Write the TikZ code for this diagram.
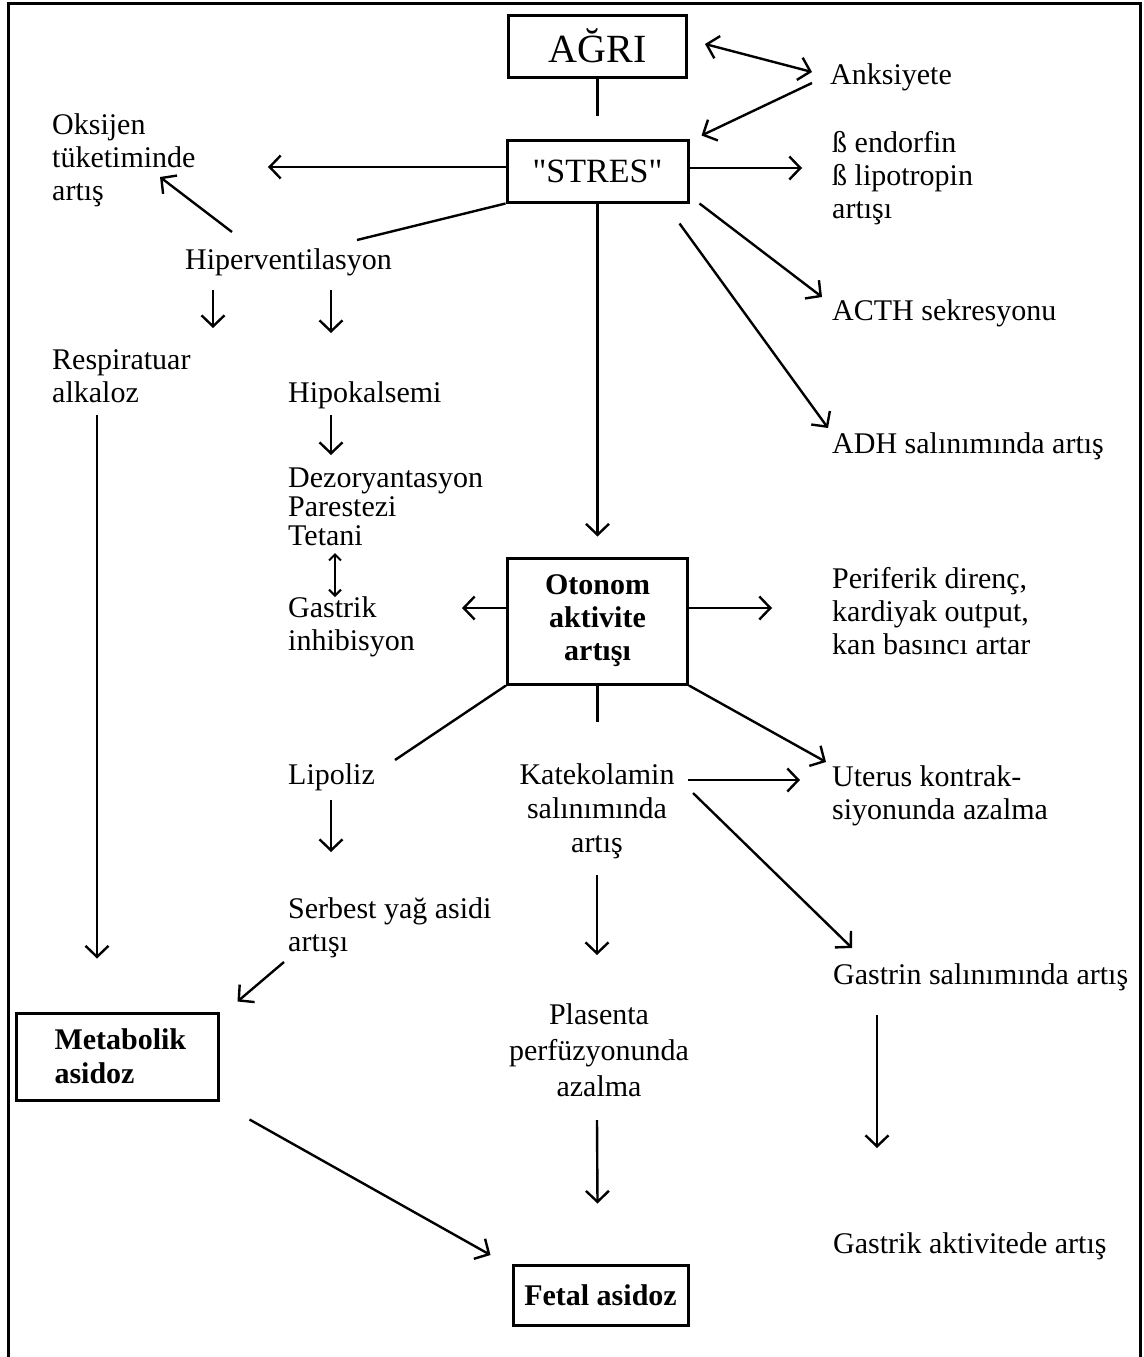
\documentclass[tikz,border=0pt]{standalone}
\usepackage{fontspec}
\setmainfont{Liberation Serif}
\usetikzlibrary{arrows.meta,calc}
\begin{document}
\begin{tikzpicture}[x=1pt,y=-1pt,
  txt/.style={font=\fontsize{30}{33}\selectfont, inner sep=0pt, align=left, anchor=west},
  ctxt/.style={font=\fontsize{30}{34}\selectfont, inner sep=0pt, align=center},
  box/.style={draw, line width=3pt, inner sep=0pt, align=center},
  ln/.style={line width=2.4pt},
  arr/.style={line width=2.4pt, -{Straight Barb[length=11pt,width=23pt]}},
  darr/.style={line width=2.4pt, {Straight Barb[length=11pt,width=23pt]}-{Straight Barb[length=11pt,width=23pt]}},
  sarr/.style={line width=2pt, {Straight Barb[length=6pt,width=12pt]}-{Straight Barb[length=6pt,width=12pt]}}]
\useasboundingbox (0,0) rectangle (1143,1357);
\fill[white] (0,0) rectangle (1143,1357);
\draw[line width=3pt] (8,1357) -- (8,3) -- (1140,3) -- (1140,1357);

% boxes
\node[box, minimum width=178pt, minimum height=62pt, font=\fontsize{40}{44}\selectfont] (agri) at (597.5,46) {AĞRI};
\node[box, minimum width=181pt, minimum height=62pt, font=\fontsize{34}{38}\selectfont] (stres) at (597.5,171) {\textquotedbl STRES\textquotedbl};
\node[box, minimum width=180pt, minimum height=126pt, font=\fontsize{30}{33}\selectfont\bfseries] (oto) at (597.5,621) {Otonom\\aktivite\\artışı};
\node[box, minimum width=202pt, minimum height=87pt, text width=125pt, inner xsep=38.5pt, align=left, font=\fontsize{30}{34}\selectfont\bfseries] (metab) at (117,1056.5) {Metabolik\\asidoz};
\node[box, minimum width=175pt, minimum height=60pt, font=\fontsize{30}{34}\selectfont\bfseries] (fetal) at (600.5,1295) {Fetal asidoz};

% texts
\node[txt] (anks) at (830,77) {Anksiyete};
\node[txt] (endo) at (832,178) {ß endorfin\\ß lipotropin\\artışı};
\node[txt] (oks) at (52,160) {Oksijen\\tüketiminde\\artış};
\node[txt] (hiper) at (185,262) {Hiperventilasyon};
\node[txt] (resp) at (52,376) {Respiratuar\\alkaloz};
\node[txt] (hipok) at (288,395) {Hipokalsemi};
\node[txt, font=\fontsize{30}{29}\selectfont] (dez) at (288,507) {Dezoryantasyon\\Parestezi\\Tetani};
\node[txt] (gastinh) at (288,627) {Gastrik\\inhibisyon};
\node[txt] (acth) at (832,313) {ACTH sekresyonu};
\node[txt] (adh) at (832,446) {ADH salınımında artış};
\node[txt] (peri) at (832,611) {Periferik direnç,\\kardiyak output,\\kan basıncı artar};
\node[txt] (lipo) at (288,777) {Lipoliz};
\node[ctxt] (kate) at (597,811) {Katekolamin\\salınımında\\artış};
\node[txt] (uterus) at (832,796) {Uterus kontrak-\\siyonunda azalma};
\node[txt] (serbest) at (288,928) {Serbest yağ asidi\\artışı};
\node[txt] (gastrin) at (833,977) {Gastrin salınımında artış};
\node[ctxt, font=\fontsize{30}{36}\selectfont] (plas) at (599,1050) {Plasenta\\perfüzyonunda\\azalma};
\node[txt] (gastakt) at (833,1246) {Gastrik aktivitede artış};
\coordinate (katetop) at (597.5,722);

% connectors
\draw[ln] (agri.south) -- ($(stres.north)+(0,-23)$);
\draw[darr] ($(agri.east)+(17,-2)$) -- ($(anks.west)+(-18,-5)$);
\draw[arr] ($(anks.west)+(-18,6)$) -- ($(stres.north east)+(12,-3)$);
\draw[arr] ($(stres.east)+(0,-3)$) -- ($(endo.west)+(-30,-10)$);
\draw[arr] ($(stres.west)+(0,-4)$) -- ($(oks.west)+(216,7)$);
\draw[ln] (stres.south west) -- ($(hiper.west)+(172,-22)$);
\draw[arr] ($(hiper.west)+(47,-30)$) -- ($(oks.west)+(108,17)$);
\draw[arr] ($(hiper.west)+(28,28)$) -- ($(resp.west)+(161,-48)$);
\draw[arr] ($(hiper.west)+(146,28)$) -- ($(hipok.west)+(43,-62)$);
\draw[arr] ($(resp.west)+(45,39)$) -- ($(metab.north)+(-20,-53)$);
\draw[arr] ($(hipok.west)+(43,20)$) -- ($(dez.west)+(43,-52)$);
\draw[sarr] ($(dez.west)+(47,46)$) -- ($(gastinh.west)+(47,-30)$);
\draw[arr] (stres.south) -- ($(oto.north)+(0,-20)$);
\draw[arr] ($(oto.west)+(0,-13)$) -- ($(gastinh.west)+(174,-19)$);
\draw[arr] ($(oto.east)+(0,-13)$) -- ($(peri.west)+(-60,-3)$);
\draw[ln] (oto.south west) -- ($(lipo.west)+(107,-17)$);
\draw[ln] (oto.south) -- (katetop);
\draw[arr] (oto.south east) -- ($(uterus.west)+(-6,-34)$);
\draw[arr] ($(kate.center)+(91,-31)$) -- ($(uterus.west)+(-32,-16)$);
\draw[arr] ($(kate.center)+(96,-18)$) -- ($(gastrin.west)+(19,-29)$);
\draw[arr] ($(kate.center)+(0,64)$) -- ($(plas.center)+(-2,-95)$);
\draw[arr] ($(plas.center)+(-2,70)$) -- ($(fetal.north)+(-3,-60)$);
\draw[arr] ($(gastrin.west)+(44,38)$) -- ($(gastakt.west)+(44,-98)$);
\draw[arr] ($(lipo.west)+(43,23)$) -- ($(serbest.west)+(43,-76)$);
\draw[arr] ($(serbest.west)+(-4,34)$) -- ($(metab.north east)+(18,-10)$);
\draw[arr] ($(metab.south east)+(30,18)$) -- ($(fetal.west)+(-21,-40)$);
\draw[arr] ($(stres.south east)+(10,0)$) -- ($(acth.west)+(-10,-16)$);
\draw[arr] ($(stres.south east)+(-10,20)$) -- ($(adh.west)+(-4,-18)$);
\end{tikzpicture}
\end{document}
